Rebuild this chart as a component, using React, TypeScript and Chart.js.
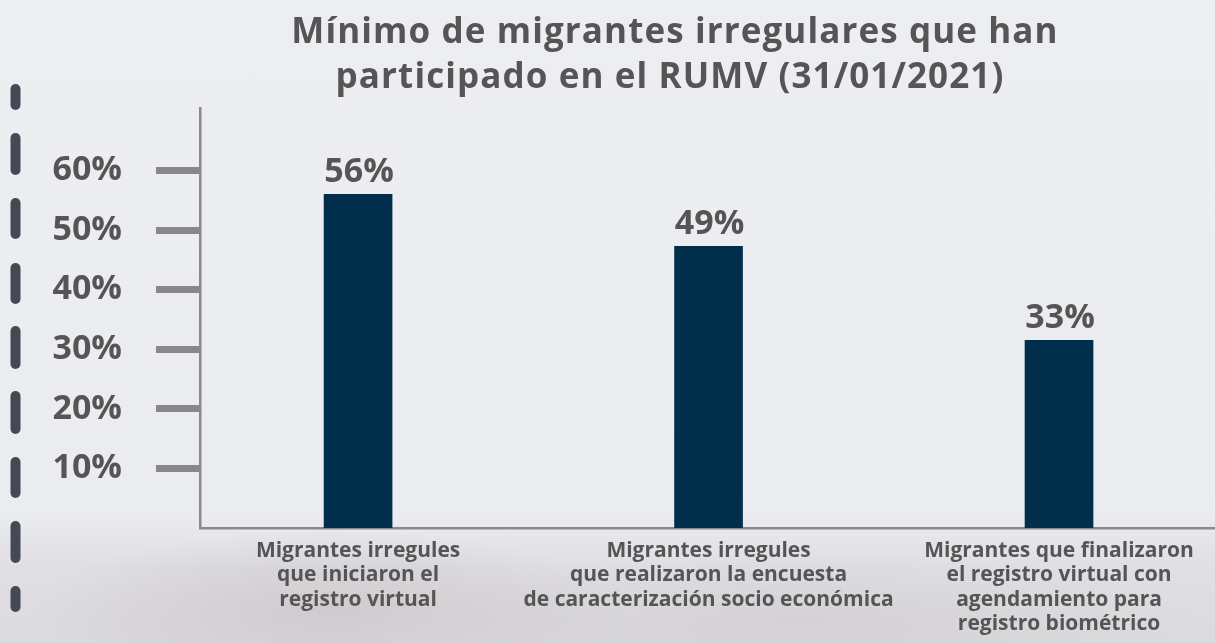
import { useEffect, useRef } from "react";
import { Chart, registerables } from "chart.js";

Chart.register(...registerables);

// ---- data ----
const titleLines = [
  "Mínimo de migrantes irregulares que han",
  "participado en el RUMV (31/01/2021)",
];
const categories: string[][] = [
  ["Migrantes irregules", "que iniciaron el", "registro virtual"],
  ["Migrantes irregules", "que realizaron la encuesta", "de caracterización socio económica"],
  ["Migrantes que finalizaron", "el registro virtual con", "agendamiento para", "registro biométrico"],
];
// bar heights as drawn in the picture (in %)
const barValues = [56, 47.3, 31.5];
// values printed above the bars
const valueLabels = ["56%", "49%", "33%"];
const yTickValues = [10, 20, 30, 40, 50, 60];

const TEXT = "#555555";
const BAR = "#002e4b";
const AXIS = "#8a8a8a";
const FAMILY = "'Open Sans', 'DejaVu Sans', sans-serif";

const decorPlugin = {
  id: "decor",
  beforeDraw(chart: any) {
    const ctx = chart.ctx;
    ctx.save();
    ctx.strokeStyle = "#454855";
    ctx.lineWidth = 10;
    ctx.lineCap = "round";
    const segs = [
      [84, 110], [133, 175], [198, 239], [263, 304], [326, 369],
      [391, 434], [457, 498], [521, 563], [586, 612],
    ];
    for (const [a, b] of segs) {
      ctx.beginPath();
      ctx.moveTo(15.5, a + 5);
      ctx.lineTo(15.5, b - 5);
      ctx.stroke();
    }
    ctx.restore();
  },
  afterDraw(chart: any) {
    const ctx = chart.ctx;
    ctx.save();
    ctx.fillStyle = TEXT;
    ctx.textAlign = "center";
    ctx.textBaseline = "alphabetic";
    ctx.font = `bold 35px ${FAMILY}`;
    try {
      (ctx as any).letterSpacing = "1.1px";
    } catch (e) {}
    ctx.fillText(titleLines[0], 675, 43);
    ctx.fillText(titleLines[1], 670, 88);
    ctx.restore();
  },
};

const valueLabelPlugin = {
  id: "valueLabels",
  afterDatasetsDraw(chart: any) {
    const ctx = chart.ctx;
    const meta = chart.getDatasetMeta(0);
    ctx.save();
    ctx.fillStyle = TEXT;
    ctx.textAlign = "center";
    ctx.textBaseline = "alphabetic";
    ctx.font = `bold 34px ${FAMILY}`;
    meta.data.forEach((el: any, i: number) => {
      ctx.fillText(valueLabels[i], el.x + 1, el.y - 12);
    });
    ctx.restore();
  },
};

export default function App() {
  const ref = useRef<HTMLCanvasElement>(null);

  useEffect(() => {
    if (!ref.current) return;
    const chart = new Chart(ref.current, {
      type: "bar",
      data: {
        datasets: [
          {
            data: barValues.map((v, i) => ({ x: i, y: v })),
            backgroundColor: BAR,
            barThickness: 68,
            borderWidth: 0,
          },
        ],
      },
      options: {
        animation: false,
        responsive: false,
        devicePixelRatio: 1,
        layout: { padding: { top: 108, left: 0, right: 0, bottom: 0 } },
        plugins: {
          legend: { display: false },
          tooltip: { enabled: false },
          title: { display: false },
        },
        scales: {
          x: {
            type: "linear",
            offset: false,
            bounds: "data",
            min: -0.451,
            max: 2.445,
            afterBuildTicks: (s: any) => {
              s.ticks = categories.map((_, i) => ({ value: i }));
            },
            afterFit: (s: any) => {
              s.height = 115;
            },
            grid: { display: false, drawTicks: false, offset: false },
            border: { display: true, color: AXIS, width: 2.5 },
            ticks: {
              autoSkip: false,
              maxRotation: 0,
              minRotation: 0,
              padding: 11,
              color: TEXT,
              font: { family: FAMILY, weight: "bold", size: 21, lineHeight: 1.155 },
              callback: (_v: any, i: number) => categories[i],
            },
          },
          y: {
            type: "linear",
            min: 0,
            max: 70.5,
            afterBuildTicks: (s: any) => {
              s.ticks = yTickValues.map((v) => ({ value: v }));
            },
            afterFit: (s: any) => {
              s.width = 200;
            },
            grid: {
              display: true,
              drawOnChartArea: false,
              drawTicks: true,
              tickLength: 46,
              tickWidth: 7,
              tickColor: "#888888",
              tickBorderDash: [44, 30],
              tickBorderDashOffset: -2,
            },
            border: { display: true, color: AXIS, width: 2.5 },
            ticks: {
              padding: 32,
              color: TEXT,
              font: { family: FAMILY, weight: "bold", size: 34 },
              callback: (v: any) => `${v}%`,
            },
          },
        },
      },
      plugins: [decorPlugin, valueLabelPlugin],
    });
    return () => chart.destroy();
  }, []);

  return (
    <div
      style={{
        position: "absolute",
        left: 0,
        top: 0,
        width: 1215,
        height: 643,
        overflow: "hidden",
        background:
          "radial-gradient(ellipse 300px 80px at 330px 610px, rgba(190,180,185,0.45), rgba(0,0,0,0) 100%), radial-gradient(ellipse 400px 70px at 800px 620px, rgba(200,195,200,0.4), rgba(0,0,0,0) 100%), linear-gradient(to bottom, #edeef2 0%, #ebecf0 80%, #e0dfe3 88%, #dcdadd 100%)",
      }}
    >
      <canvas ref={ref} width={1215} height={643} />
    </div>
  );
}
